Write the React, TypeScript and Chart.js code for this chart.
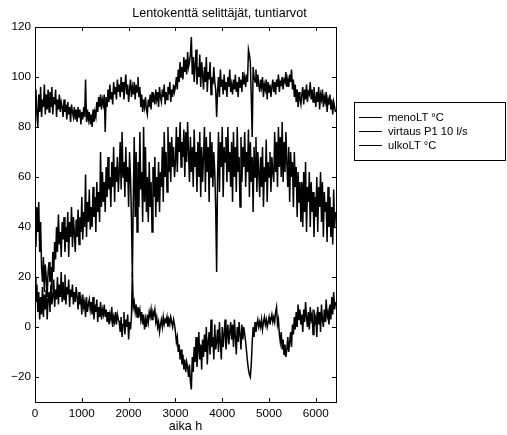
import React, { useEffect, useRef } from "react";
import { Chart, registerables } from "chart.js";

Chart.register(...registerables);

const TITLE = "Lentokenttä selittäjät, tuntiarvot";
const X_LABEL = "aika h";
const SERIES_NAMES = ["menoLT °C", "virtaus P1 10 l/s", "ulkoLT °C"];
const STEP_H = 20; // sampling step of the listed values, hours
const X_TICKS = [0, 1000, 2000, 3000, 4000, 5000, 6000];
const Y_TICKS = [-20, 0, 20, 40, 60, 80, 100, 120];

const menoLT = [
  90, 95, 85, 80, 93, 86, 96, 84, 91, 88, 97, 85, 93, 87, 95,
  86, 94, 88, 96, 85, 92, 89, 95, 84, 91, 87, 93, 86, 90, 88,
  84, 91, 86, 89, 83, 90, 85, 88, 82, 89, 86, 84, 88, 83, 87,
  82, 88, 84, 87, 81, 86, 83, 88, 84, 99, 82, 87, 83, 86, 81,
  85, 80, 87, 82, 86, 84, 90, 86, 92, 88, 93, 87, 91, 89, 93,
  78, 92, 88, 95, 90, 97, 91, 94, 89, 98, 93, 96, 91, 99, 94,
  97, 92, 100, 94, 98, 91, 96, 101, 93, 97, 90, 95, 99, 92, 96,
  93, 98, 91, 97, 94, 100, 92, 96, 88, 93, 86, 91, 88, 92, 87,
  85, 91, 88, 93, 87, 94, 90, 92, 89, 95, 91, 94, 88, 96, 92,
  90, 95, 92, 97, 89, 94, 91, 96, 93, 98, 90, 95, 92, 97, 94,
  96, 100, 95, 103, 98, 106, 100, 104, 99, 108, 102, 107, 101, 110, 104,
  106, 109, 116, 101, 108, 98, 105, 111, 97, 104, 100, 109, 96, 106, 101,
  95, 104, 98, 108, 94, 102, 99, 106, 93, 100, 97, 104, 98, 95, 84,
  94, 100, 92, 103, 96, 99, 93, 101, 95, 98, 92, 100, 96, 103, 94,
  97, 93, 99, 95, 101, 94, 98, 92, 100, 96, 99, 94, 102, 97, 100,
  96, 101, 98, 111, 109, 106, 92, 76, 104, 100, 98, 103, 96, 101, 97,
  94, 99, 96, 100, 92, 97, 95, 99, 91, 98, 94, 97, 92, 96, 99,
  94, 98, 93, 99, 96, 101, 94, 98, 97, 100, 95, 99, 98, 102, 96,
  99, 96, 101, 98, 103, 95, 99, 92, 97, 90, 95, 88, 94, 91, 89,
  93, 96, 89, 95, 91, 97, 90, 94, 93, 98, 91, 95, 90, 96, 92,
  88, 94, 90, 96, 87, 93, 91, 95, 88, 92, 90, 94, 86, 91, 89,
  93, 87, 91, 85, 90, 88, 86,
];

const virtaus = [
  44, 32, 48, 38, 50, 30, 42, 24, 18, 28, 14, 25, 20, 12, 22,
  26, 18, 24, 15, 30, 22, 34, 27, 40, 30, 45, 33, 38, 28, 42,
  35, 44, 30, 40, 34, 46, 28, 42, 36, 48, 32, 44, 38, 30, 43,
  36, 47, 33, 44, 38, 52, 35, 46, 40, 61, 36, 50, 42, 55, 39,
  48, 40, 56, 44, 52, 38, 58, 46, 54, 42, 70, 48, 62, 50, 58,
  46, 64, 52, 68, 55, 60, 48, 66, 56, 72, 50, 64, 58, 68, 54,
  62, 74, 55, 78, 60, 66, 52, 72, 58, 64, 48, 70, 60, 44, 20,
  52, 76, 44, 70, 38, 66, 48, 78, 55, 62, 42, 80, 50, 72, 46,
  60, 42, 66, 48, 58, 38, 64, 52, 68, 44, 60, 50, 66, 46, 62,
  56, 72, 50, 78, 60, 70, 54, 80, 62, 74, 58, 76, 64, 72, 60,
  66, 80, 62, 76, 70, 82, 64, 74, 68, 79, 60, 78, 66, 82, 70,
  58, 76, 62, 72, 56, 79, 64, 70, 54, 74, 60, 78, 52, 72, 58,
  68, 80, 54, 76, 62, 72, 50, 78, 60, 74, 56, 70, 62, 48, 22,
  60, 78, 54, 74, 64, 80, 52, 72, 66, 76, 58, 80, 62, 70, 56,
  74, 50, 78, 60, 72, 54, 80, 62, 68, 48, 76, 58, 72, 64, 78,
  56, 70, 62, 79, 52, 74, 58, 68, 46, 72, 60, 76, 54, 70, 62,
  52, 68, 56, 72, 48, 64, 58, 75, 50, 66, 60, 70, 54, 68, 62,
  58, 78, 62, 74, 56, 80, 64, 76, 60, 82, 58, 74, 62, 78, 66,
  56, 72, 50, 70, 60, 66, 48, 70, 56, 64, 44, 62, 50, 58, 42,
  58, 40, 62, 46, 66, 38, 56, 50, 62, 40, 58, 46, 54, 36, 52,
  44, 60, 38, 56, 48, 62, 42, 58, 36, 54, 46, 50, 34, 56, 40,
  52, 36, 48, 33, 55, 40, 46,
];

const ulkoLT = [
  20, 10, 17, 6, 14, 3, 12, 5, 16, 4, 13, 7, 15, 3, 11,
  14, 6, 17, 9, 12, 19, 8, 15, 11, 20, 9, 17, 12, 22, 10,
  18, 11, 21, 9, 16, 13, 19, 8, 15, 12, 17, 9, 14, 10, 16,
  12, 7, 14, 9, 11, 5, 13, 8, 10, 4, 12, 6, 9, 11, 7,
  10, 5, 12, 3, 9, 6, 11, 2, 8, 4, 10, 3, 7, 5, 9,
  4, 7, 2, 6, 1, 5, 3, 8, 0, 4, 2, 6, 1, 5, 3,
  2, -2, 4, -4, 1, 6, -3, 3, 0, 5, -5, 2, -1, 4, 22,
  8, 10, 6, 9, 4, 8, 5, 7, 3, 6, 1, 5, -1, 3, 0,
  5, 2, 6, 4, 7, 3, 6, 5, 7, 2, 4, 0, 2, -2, 1,
  3, 0, 4, 1, 3, 2, 4, 0, 3, 1, 4, 2, 0, 3, 1,
  -2, -6, -4, -10, -7, -13, -9, -15, -11, -17, -13, -18, -14, -16, -20,
  -15, -22, -25, -12, -18, -8, -14, -4, -16, -10, -2, -13, -7, -17, -5,
  -12, -3, -10, 0, -15, -6, -2, -11, 3, -8, -4, -13, 1, -9, -6,
  -1, -10, 2, -6, -13, 0, -8, -3, 3, -9, -4, 1, -7, -2, 2,
  -5, 1, -8, 3, -4, -11, 0, -6, 2, -3, -9, 1, -5, 0, -3,
  -6, -10, -14, -17, -19, -20, -15, -6, 0, -4, 2, -2, 1, 3, 0,
  2, 0, 3, -1, 2, 4, 1, 3, 0, 2, 4, 1, 3, 5, 2,
  4, 2, 6, 8, 1, 3, -3, -6, -2, -9, -5, -11, -7, -12, -9,
  -4, -10, -6, -2, -8, 1, -3, 4, -1, 6, 0, 9, 3, 7, 1,
  5, -2, 7, 2, 10, 4, 0, 6, -1, 8, 3, 5, -3, 7, 2,
  4, -4, 8, 1, 6, -2, 9, 3, 0, 7, 2, 11, 4, 6, 1,
  9, 3, 12, 5, 14, 7, 10,
];

const toPoints = (vals: number[]) => vals.map((v, i) => ({ x: i * STEP_H, y: v }));

const FONT = "'Liberation Sans', Arial, Helvetica, sans-serif";

const decorPlugin = {
  id: "decor",
  afterDraw(chart: any) {
    const { ctx, chartArea: a, scales } = chart;
    const xs = scales.x;
    const ys = scales.y;
    ctx.save();
    ctx.strokeStyle = "#000";
    ctx.lineWidth = 1;
    ctx.strokeRect(Math.round(a.left) + 0.5, Math.round(a.top) + 0.5, Math.round(a.right - a.left), Math.round(a.bottom - a.top));
    const tl = 4;
    ctx.beginPath();
    X_TICKS.forEach((t) => {
      const px = Math.round(xs.getPixelForValue(t)) + 0.5;
      ctx.moveTo(px, a.bottom);
      ctx.lineTo(px, a.bottom - tl);
      ctx.moveTo(px, a.top);
      ctx.lineTo(px, a.top + tl);
    });
    Y_TICKS.forEach((t) => {
      const py = Math.round(ys.getPixelForValue(t)) + 0.5;
      ctx.moveTo(a.left, py);
      ctx.lineTo(a.left + tl, py);
      ctx.moveTo(a.right, py);
      ctx.lineTo(a.right - tl, py);
    });
    ctx.stroke();

    ctx.fillStyle = "#000";
    ctx.font = `12.6px ${FONT}`;
    ctx.textAlign = "center";
    ctx.textBaseline = "middle";
    ctx.fillText(TITLE, 219.5, 13.5);
    ctx.fillText(X_LABEL, (a.left + a.right) / 2, 427);

    const lx = 354, ly = 102, lw = 151, lh = 58;
    ctx.fillStyle = "#fff";
    ctx.fillRect(lx, ly, lw, lh);
    ctx.strokeRect(lx + 0.5, ly + 0.5, lw, lh);
    ctx.fillStyle = "#000";
    ctx.textAlign = "left";
    ctx.font = `11.2px ${FONT}`;
    SERIES_NAMES.forEach((name, i) => {
      const y = 117 + i * 14;
      ctx.beginPath();
      ctx.moveTo(359, Math.round(y) + 0.5);
      ctx.lineTo(382, Math.round(y) + 0.5);
      ctx.stroke();
      ctx.fillText(name, 388, y + 0.5);
    });
    ctx.restore();
  },
};

export default function App() {
  const ref = useRef<HTMLCanvasElement | null>(null);
  useEffect(() => {
    document.body.style.margin = "0";
    const canvas = ref.current!;
    const mk = (label: string, vals: number[]) => ({
      label,
      data: toPoints(vals),
      borderColor: "#000",
      borderWidth: 1.5,
      pointRadius: 0,
      tension: 0,
      fill: false,
    });
    const chart = new Chart(canvas, {
      type: "line",
      data: {
        datasets: [
          mk(SERIES_NAMES[0], menoLT),
          mk(SERIES_NAMES[1], virtaus),
          mk(SERIES_NAMES[2], ulkoLT),
        ],
      },
      options: {
        animation: false,
        responsive: false,
        devicePixelRatio: 1,
        layout: { padding: { left: 0, top: 27, right: 171, bottom: 0 } },
        plugins: { legend: { display: false }, title: { display: false }, tooltip: { enabled: false } },
        scales: {
          x: {
            type: "linear",
            min: 0,
            max: 6430,
            afterFit: (s: any) => { s.height = 33; },
            afterBuildTicks: (s: any) => { s.ticks = X_TICKS.map((v) => ({ value: v })); },
            grid: { display: false, drawTicks: false },
            border: { display: false },
            ticks: { color: "#000", font: { family: FONT, size: 11.7 }, padding: 5, maxRotation: 0, autoSkip: false, callback: (v: any) => String(v) },
          },
          y: {
            min: -30,
            max: 120,
            afterFit: (s: any) => { s.width = 35; },
            afterBuildTicks: (s: any) => { s.ticks = Y_TICKS.map((v) => ({ value: v })); },
            grid: { display: false, drawTicks: false },
            border: { display: false },
            ticks: { color: "#000", font: { family: FONT, size: 11.7 }, padding: 4, autoSkip: false, callback: (v: any) => String(v).replace("-", "\u2212") },
          },
        },
      },
      plugins: [decorPlugin],
    } as any);
    return () => chart.destroy();
  }, []);
  return (
    <div style={{ width: 507, height: 435, background: "#fff" }}>
      <canvas ref={ref} width={507} height={435} style={{ display: "block" }} />
    </div>
  );
}
